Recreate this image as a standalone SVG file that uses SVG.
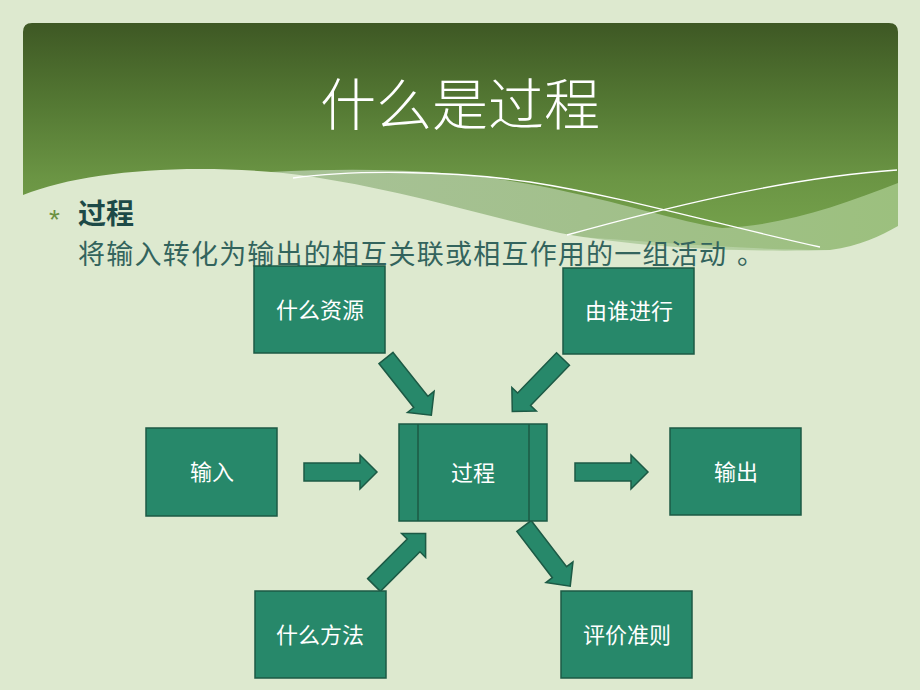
<svg xmlns="http://www.w3.org/2000/svg" width="920" height="690" viewBox="0 0 920 690">
<defs>
<linearGradient id="bannerGrad" x1="0" y1="0" x2="0" y2="1">
<stop offset="0" stop-color="#3e5824"/>
<stop offset="0.35" stop-color="#557a34"/>
<stop offset="0.65" stop-color="#6b9544"/>
<stop offset="1" stop-color="#7aa850"/>
</linearGradient>
<linearGradient id="sageGrad" x1="0" y1="0" x2="1" y2="0">
<stop offset="0" stop-color="#a8c297"/>
<stop offset="0.5" stop-color="#a2c08c"/>
<stop offset="1" stop-color="#9cc07e"/>
</linearGradient>
<clipPath id="bannerClip">
<path d="M23,32 Q23,23 32,23 H889 Q898,23 898,32 V300 H23 Z"/>
</clipPath>
<path id="blockArrow" d="M0,-9 H56 V-17 L73,0 L56,17 V9 H0 Z"/>
<style>
.node rect{fill:#27886a;stroke:#1c5a45;stroke-width:1.5}
.node line{stroke:#1c5a45;stroke-width:1.5}
.node text{fill:#ffffff;font-family:"Noto Sans CJK SC","Noto Sans",sans-serif;font-size:22px;text-anchor:middle}
.arrow{fill:#27886a;stroke:#1c5a45;stroke-width:1.5;stroke-linejoin:miter}
.wline{fill:none;stroke:#ffffff;stroke-width:1.3}
</style>
</defs>
<rect x="0" y="0" width="920" height="690" fill="#dde9cf"/>
<g id="banner" clip-path="url(#bannerClip)">
<rect x="23" y="23" width="875" height="240" fill="url(#bannerGrad)"/>
<path d="M270,172 C380,166 470,172 540,186 C620,202 680,222 722,228 C780,226 840,206 898,183 L898,263 L270,263 Z" fill="url(#sageGrad)"/>
<path d="M480,232 C600,236 720,250 830,250 L898,250 L898,263 L480,263 Z" fill="#b9d2a8" opacity="0.8"/>
<path d="M23,195 C80,172 180,163 283,173 C380,184 470,212 560,233 C650,250 760,252 830,250 C860,246 880,236 898,226 L898,300 L23,300 Z" fill="#dde9cf"/>
<path class="wline" d="M293,178 C350,170 450,170 530,182 C620,196 720,225 820,247"/>
<path class="wline" d="M567,235 C650,212 780,178 897,170"/>
</g>
<text x="460" y="125" fill="#ffffff" font-family="'Noto Sans CJK SC','Noto Sans',sans-serif" font-weight="300" font-size="56" text-anchor="middle">什么是过程</text>
<text x="49" y="229" fill="#6b9142" font-family="'Liberation Sans',sans-serif" font-size="28">*</text>
<text x="78" y="224" fill="#1d4a47" font-family="'Noto Sans CJK SC','Noto Sans',sans-serif" font-weight="bold" font-size="28">过程</text>
<text x="78" y="264" fill="#33645d" font-family="'Noto Sans CJK SC','Noto Sans',sans-serif" font-size="27" textLength="648" lengthAdjust="spacing">将输入转化为输出的相互关联或相互作用的一组活动</text>
<text x="737" y="264" fill="#33645d" font-family="'Noto Sans CJK SC','Noto Sans',sans-serif" font-size="27">。</text>
<g id="connectors">
<use href="#blockArrow" class="arrow" transform="translate(304,472)"/>
<use href="#blockArrow" class="arrow" transform="translate(575,472)"/>
<use href="#blockArrow" class="arrow" transform="translate(386,358) rotate(51.6)"/>
<use href="#blockArrow" class="arrow" transform="translate(563,359) rotate(134)"/>
<use href="#blockArrow" class="arrow" transform="translate(374,585) rotate(-45)"/>
<use href="#blockArrow" class="arrow" transform="translate(524,526) rotate(52.5) scale(1.04,1)"/>
</g>
<g id="node-resource" class="node">
<rect x="254" y="266" width="131" height="87"/>
<text x="320" y="318">什么资源</text>
</g>
<g id="node-who" class="node">
<rect x="563" y="268" width="131" height="86"/>
<text x="629" y="319">由谁进行</text>
</g>
<g id="node-input" class="node">
<rect x="146" y="428" width="131" height="88"/>
<text x="212" y="480">输入</text>
</g>
<g id="node-process" class="node">
<rect x="399" y="424" width="148" height="97"/>
<line x1="418" y1="424" x2="418" y2="521"/>
<line x1="529" y1="424" x2="529" y2="521"/>
<text x="473" y="481">过程</text>
</g>
<g id="node-output" class="node">
<rect x="670" y="428" width="131" height="87"/>
<text x="736" y="480">输出</text>
</g>
<g id="node-method" class="node">
<rect x="255" y="591" width="131" height="87"/>
<text x="320" y="643">什么方法</text>
</g>
<g id="node-criteria" class="node">
<rect x="561" y="591" width="131" height="87"/>
<text x="627" y="643">评价准则</text>
</g>
</svg>
